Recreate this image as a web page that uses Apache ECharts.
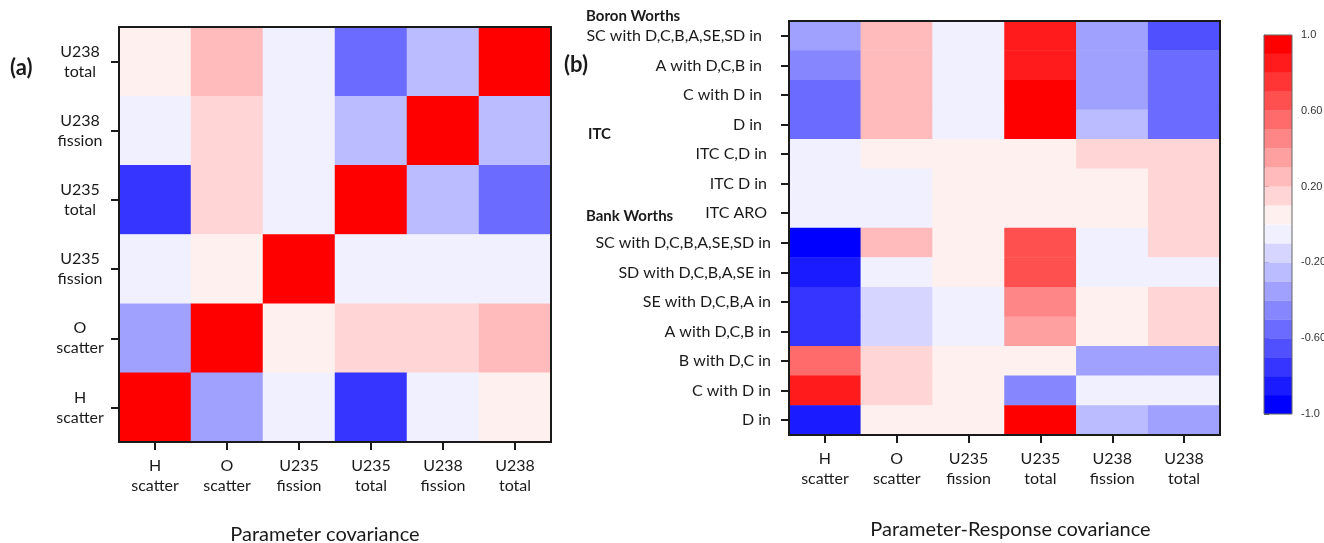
<!DOCTYPE html>
<html>
<head>
<meta charset="utf-8">
<script src="https://cdn.jsdelivr.net/npm/echarts@6/dist/echarts.min.js"></script>
<style>
  html, body { margin: 0; padding: 0; background: #fff; }
  #chart { width: 1324px; height: 543px; }
</style>
</head>
<body>
<div id="chart"></div>
<script>
// ---- data ----
const paramCats = ['H\nscatter', 'O\nscatter', 'U235\nfission', 'U235\ntotal', 'U238\nfission', 'U238\ntotal'];
// rows of panel (a), top to bottom
const paramRowLabels = ['U238\ntotal', 'U238\nfission', 'U235\ntotal', 'U235\nfission', 'O\nscatter', 'H\nscatter'];
const paramCov = [
  [ 0.05,  0.25, -0.05, -0.55, -0.25,  1.00],
  [-0.05,  0.15, -0.05, -0.25,  1.00, -0.25],
  [-0.75,  0.15, -0.05,  1.00, -0.25, -0.55],
  [-0.05,  0.05,  1.00, -0.05, -0.05, -0.05],
  [-0.35,  1.00,  0.05,  0.15,  0.15,  0.25],
  [ 1.00, -0.35, -0.05, -0.75, -0.05,  0.05]
];
// rows of panel (b), top to bottom
const responseLabels = [
  'SC with D,C,B,A,SE,SD in', 'A with D,C,B in', 'C with D in', 'D in',
  'ITC C,D in', 'ITC D in', 'ITC ARO',
  'SC with D,C,B,A,SE,SD in', 'SD with D,C,B,A,SE in', 'SE with D,C,B,A in',
  'A with D,C,B in', 'B with D,C in', 'C with D in', 'D in'
];
const responseCov = [
  [-0.35,  0.25, -0.05,  0.85, -0.35, -0.65],
  [-0.45,  0.25, -0.05,  0.85, -0.35, -0.55],
  [-0.55,  0.25, -0.05,  0.95, -0.35, -0.55],
  [-0.55,  0.25, -0.05,  0.95, -0.25, -0.55],
  [-0.05,  0.05,  0.05,  0.05,  0.15,  0.15],
  [-0.05, -0.05,  0.05,  0.05,  0.05,  0.15],
  [-0.05, -0.05,  0.05,  0.05,  0.05,  0.15],
  [-0.95,  0.25,  0.05,  0.65, -0.05,  0.15],
  [-0.85, -0.05,  0.05,  0.65, -0.05, -0.05],
  [-0.75, -0.15, -0.05,  0.45,  0.05,  0.15],
  [-0.75, -0.15, -0.05,  0.35,  0.05,  0.15],
  [ 0.55,  0.15,  0.05,  0.05, -0.35, -0.35],
  [ 0.85,  0.15,  0.05, -0.45, -0.05, -0.05],
  [-0.85,  0.05,  0.05,  0.95, -0.25, -0.35]
];
const groupLabels = ['Boron Worths', 'ITC', 'Bank Worths'];
const panelLabels = ['(a)', '(b)'];
const axisTitles = ['Parameter covariance', 'Parameter-Response covariance'];
// 20 colour steps from -1.0 to 1.0
const colorSteps = [
  '#0000ff', '#1b1bff', '#3535ff', '#5050ff', '#6b6bff', '#8686ff', '#a0a0ff', '#bbbbff', '#d5d5ff', '#f0f0ff',
  '#fff0f0', '#ffd5d5', '#ffbbbb', '#ffa0a0', '#ff8686', '#ff6b6b', '#ff5050', '#ff3535', '#ff1b1b', '#ff0000'
];
const colorMin = -1, colorMax = 1, colorTickInterval = 0.4;

// ---- build ----
const bounds = [];
for (let i = 0; i <= colorSteps.length; i++) {
  bounds.push(Math.round((colorMin + i * (colorMax - colorMin) / colorSteps.length) * 1000) / 1000);
}
const pieces = colorSteps.map((c, i) => i === colorSteps.length - 1
  ? { gte: bounds[i], lte: bounds[i + 1], color: c }
  : { gte: bounds[i], lt: bounds[i + 1], color: c });

function toCells(rows) {
  const out = [];
  rows.forEach((row, r) => row.forEach((v, c) => out.push([c, r, v])));
  return out;
}

const FONT = 'Lato';
const INK = '#1a1a1a';
const tickStyle = { show: true, length: 8, alignWithLabel: true, lineStyle: { color: INK, width: 2 } };
const gridBase = { show: true, borderColor: INK, borderWidth: 2, backgroundColor: 'transparent', z: 5, containLabel: false, outerBoundsMode: 'none' };

const chart = echarts.init(document.getElementById('chart'), null, { renderer: 'canvas' });

const option = {
  backgroundColor: '#fff',
  animation: false,
  textStyle: { fontFamily: FONT },
  grid: [
    Object.assign({ left: 119, top: 27, width: 432, height: 415 }, gridBase),
    Object.assign({ left: 789, top: 21, width: 431, height: 414 }, gridBase),
    Object.assign({ left: 1264, top: 35, width: 28, height: 379 }, gridBase, { borderColor: '#666', borderWidth: 1 })
  ],
  xAxis: [
    {
      type: 'category', gridIndex: 0, data: paramCats,
      axisLine: { show: false }, axisTick: tickStyle, splitLine: { show: false },
      axisLabel: { color: INK, fontFamily: FONT, fontSize: 16, lineHeight: 20, margin: 14, interval: 0 },
      name: axisTitles[0], nameLocation: 'middle', nameGap: 83,
      nameTextStyle: { color: INK, fontFamily: FONT, fontSize: 20, padding: [0, 20, 0, 0] }
    },
    {
      type: 'category', gridIndex: 1, data: paramCats,
      axisLine: { show: false }, axisTick: tickStyle, splitLine: { show: false },
      axisLabel: { color: INK, fontFamily: FONT, fontSize: 16, lineHeight: 20, margin: 14, interval: 0 },
      name: axisTitles[1], nameLocation: 'middle', nameGap: 85,
      nameTextStyle: { color: INK, fontFamily: FONT, fontSize: 20, padding: [0, 0, 0, 12] }
    },
    { type: 'value', gridIndex: 2, min: 0, max: 1, show: false }
  ],
  yAxis: [
    {
      type: 'category', gridIndex: 0, data: paramRowLabels, inverse: true,
      axisLine: { show: false }, axisTick: tickStyle, splitLine: { show: false },
      axisLabel: { color: INK, fontFamily: FONT, fontSize: 16, lineHeight: 20, margin: 39, align: 'center', padding: [14, 0, 0, 0], interval: 0 }
    },
    {
      type: 'category', gridIndex: 1, data: responseLabels, inverse: true,
      axisLine: { show: false }, axisTick: tickStyle, splitLine: { show: false },
      axisLabel: {
        color: INK, fontFamily: FONT, fontSize: 16, margin: 18, interval: 0,
        formatter: function (v, i) { return '{' + (i < 4 ? 'a' : (i < 7 ? 'b' : 'c')) + '|' + v + '}'; },
        rich: {
          a: { color: INK, fontFamily: FONT, fontSize: 16, padding: [0, 9, 0, 0] },
          b: { color: INK, fontFamily: FONT, fontSize: 16, padding: [0, 4, 0, 0] },
          c: { color: INK, fontFamily: FONT, fontSize: 16 }
        }
      }
    },
    {
      type: 'value', gridIndex: 2, min: colorMin, max: colorMax, interval: colorTickInterval, position: 'right',
      axisLine: { show: true, lineStyle: { color: '#666', width: 1 } },
      axisTick: { show: true, length: 5, lineStyle: { color: '#666', width: 1 } },
      splitLine: { show: false },
      axisLabel: {
        color: '#333', fontFamily: 'Liberation Sans', fontSize: 11, margin: 9,
        formatter: function (v) { return Math.abs(Math.abs(v) - 1) < 1e-9 ? v.toFixed(1) : v.toFixed(2); }
      }
    }
  ],
  visualMap: {
    type: 'piecewise', show: false, seriesIndex: [0, 1], dimension: 2,
    pieces: pieces
  },
  series: [
    { type: 'heatmap', xAxisIndex: 0, yAxisIndex: 0, data: toCells(paramCov), emphasis: { disabled: true }, itemStyle: { borderWidth: 0 } },
    { type: 'heatmap', xAxisIndex: 1, yAxisIndex: 1, data: toCells(responseCov), emphasis: { disabled: true }, itemStyle: { borderWidth: 0 } },
    {
      type: 'custom', xAxisIndex: 2, yAxisIndex: 2, silent: true,
      data: colorSteps.map((c, i) => [bounds[i], bounds[i + 1], i]),
      encode: { y: [0, 1] },
      renderItem: function (params, api) {
        const lo = api.value(0), hi = api.value(1);
        const p1 = api.coord([0, hi]);
        const p2 = api.coord([1, lo]);
        return { type: 'rect', shape: { x: p1[0], y: p1[1], width: p2[0] - p1[0], height: p2[1] - p1[1] }, style: { fill: colorSteps[api.value(2)] } };
      }
    }
  ],
  graphic: [
    { type: 'text', left: 10, top: 57, style: { text: panelLabels[0], font: 'bold 22px Lato', fill: INK } },
    { type: 'text', left: 564, top: 54, style: { text: panelLabels[1], font: 'bold 22px Lato', fill: INK } },
    { type: 'text', left: 586, top: 9, style: { text: groupLabels[0], font: 'bold 15px Lato', fill: INK } },
    { type: 'text', left: 588, top: 127, style: { text: groupLabels[1], font: 'bold 15px Lato', fill: INK } },
    { type: 'text', left: 586, top: 209, style: { text: groupLabels[2], font: 'bold 15px Lato', fill: INK } }
  ]
};
chart.setOption(option);
</script>
</body>
</html>
